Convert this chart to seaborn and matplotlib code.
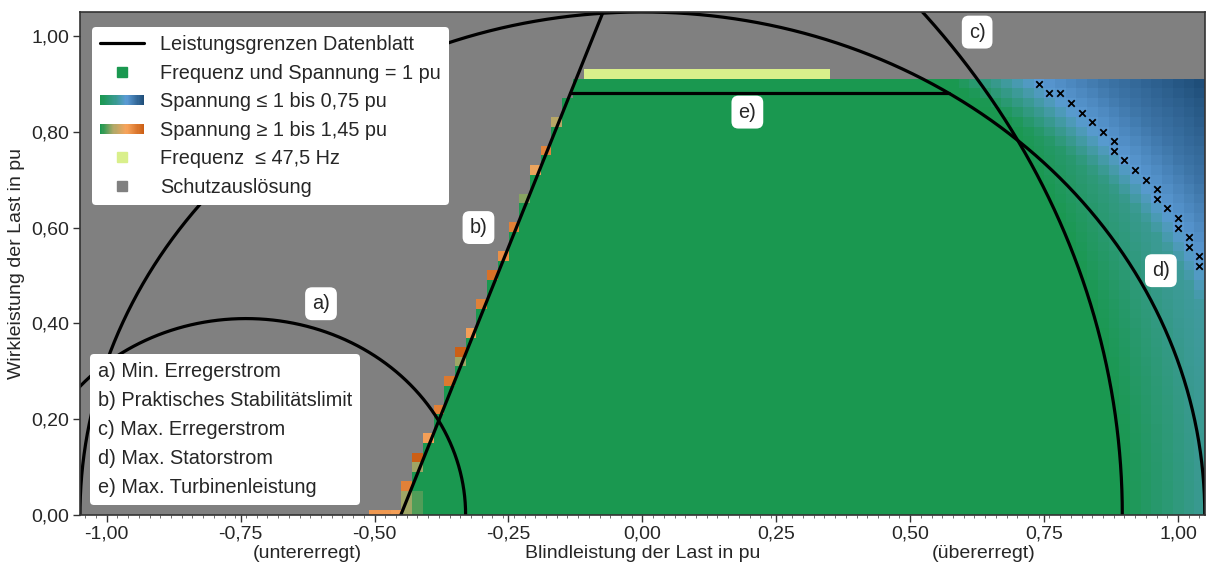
import numpy as np
import pandas as pd
import matplotlib
matplotlib.use("Agg")
import matplotlib.pyplot as plt
import seaborn as sns
from matplotlib.colors import LinearSegmentedColormap, to_rgba
from matplotlib.legend_handler import HandlerBase
from matplotlib.lines import Line2D
from matplotlib.patches import Patch, Rectangle
from matplotlib.ticker import FuncFormatter, MultipleLocator

#-------------------------------- data --------------------------------#
# simulated operating points: reactive power Q and active power P of the load (pu)
grid_step = 0.02
q_centers = np.round(np.arange(-1.04, 1.0401, grid_step), 2)
p_centers = np.round(np.arange(0.0, 0.9201, grid_step), 2)
p_max_sim = 0.90

# datasheet limits a) - e)
min_exc_center, min_exc_radius = -0.74, 0.41      # a) Min. Erregerstrom
stab_q0, stab_slope = -0.451, 2.78                # b) Praktisches Stabilitätslimit
max_exc_center, max_exc_radius = -0.768, 1.664    # c) Max. Erregerstrom
stator_radius = 1.05                              # d) Max. Statorstrom
turbine_p = 0.88                                  # e) Max. Turbinenleistung

# undervoltage shading (0 = 1 pu, 1 = 0.75 pu) over apparent power / excitation overshoot
s_knots = [1.07, 1.12, 1.165, 1.25, 1.38]
s_shade = [0.0, 0.35, 0.60, 0.80, 1.00]
exc_knots = [0.0, 0.15, 0.30]
exc_shade = [0.0, 0.35, 0.50]

# overvoltage cells along the stability limit (Q, P, U in pu)
over_q = [-0.50, -0.48, -0.46, -0.44, -0.44, -0.44, -0.44, -0.42, -0.42, -0.42,
          -0.42, -0.42, -0.40, -0.38, -0.36, -0.34, -0.34, -0.32, -0.30, -0.28,
          -0.26, -0.24, -0.22, -0.20, -0.18, -0.16]
over_p = [0.00, 0.00, 0.00, 0.00, 0.02, 0.04, 0.06, 0.00, 0.02, 0.04,
          0.10, 0.12, 0.16, 0.22, 0.28, 0.32, 0.34, 0.38, 0.44, 0.50,
          0.54, 0.60, 0.66, 0.72, 0.76, 0.82]
over_u = [1.30, 1.30, 1.28, 1.12, 1.12, 1.12, 1.36, 1.05, 1.05, 1.05,
          1.12, 1.45, 1.28, 1.36, 1.38, 1.12, 1.45, 1.28, 1.36, 1.40,
          1.32, 1.36, 1.10, 1.25, 1.35, 1.15]

# frequency <= 47.5 Hz cells (row P = 0.92)
freq_p = 0.92
freq_q = np.round(np.arange(-0.10, 0.3401, grid_step), 2)

# operating points marked with x
marker_q = [0.74, 0.76, 0.78, 0.80, 0.82, 0.84, 0.86, 0.88, 0.88, 0.90, 0.92,
            0.94, 0.96, 0.96, 0.98, 1.00, 1.00, 1.02, 1.02, 1.04, 1.04]
marker_p = [0.90, 0.88, 0.88, 0.86, 0.84, 0.82, 0.80, 0.78, 0.76, 0.74, 0.72,
            0.70, 0.68, 0.66, 0.64, 0.62, 0.60, 0.58, 0.56, 0.54, 0.52]

x_ticks = [-1.0, -0.75, -0.5, -0.25, 0.0, 0.25, 0.5, 0.75, 1.0]
y_ticks = [0.0, 0.2, 0.4, 0.6, 0.8, 1.0]

labels = ["a)", "b)", "c)", "d)", "e)"]
label_q = [-0.60, -0.306, 0.625, 0.968, 0.196]
label_p = [0.441, 0.600, 1.008, 0.510, 0.841]

limit_texts = ["a) Min. Erregerstrom", "b) Praktisches Stabilitätslimit",
               "c) Max. Erregerstrom", "d) Max. Statorstrom",
               "e) Max. Turbinenleistung"]

#-------------------------------- colours --------------------------------#
green = "#1a9850"
trip_gray = "#808080"
freq_green = "#d9ef8b"
cmap_under = LinearSegmentedColormap.from_list(
    "under", [(0.0, green), (0.35, "#3a9a92"), (0.6, "#5b9bd5"), (1.0, "#1f4e79")])
cmap_over = LinearSegmentedColormap.from_list(
    "over", [(0.0, green), (0.3, "#b0a868"), (0.6, "#f7a45c"), (1.0, "#cc5f15")])

FS = 14.3
FS_AX = 14
sns.set_theme(style="ticks")
plt.rcParams["font.family"] = ["Liberation Sans", "DejaVu Sans"]
plt.rcParams["font.size"] = FS

#-------------------------------- result grid --------------------------------#
qq, pp = np.meshgrid(q_centers, p_centers)
rgba = np.zeros(qq.shape + (4,))
rgba[:] = to_rgba(trip_gray)
stable = (pp <= p_max_sim + 1e-9) & (qq > stab_q0 + pp / stab_slope - 0.005)
shade = np.maximum(np.interp(np.hypot(qq, pp), s_knots, s_shade),
                   np.interp(np.hypot(qq - max_exc_center, pp) - max_exc_radius,
                             exc_knots, exc_shade))
rgba[stable] = cmap_under(shade[stable])

row_of = {p: i for i, p in enumerate(p_centers)}
col_of = {q: j for j, q in enumerate(q_centers)}
for q, p, u in zip(over_q, over_p, over_u):
    rgba[row_of[round(p, 2)], col_of[round(q, 2)]] = cmap_over((u - 1.0) / 0.45)
for q in freq_q:
    rgba[row_of[freq_p], col_of[round(q, 2)]] = to_rgba(freq_green)

fig = plt.figure(figsize=(12.06, 5.65), dpi=100)
ax = fig.add_axes([0.0663, 0.0885, 0.9327, 0.8903])
ax.set_facecolor(trip_gray)
ax.imshow(rgba, origin="lower", aspect="auto", interpolation="nearest",
          extent=(q_centers[0] - 0.01, q_centers[-1] + 0.01,
                  p_centers[0] - 0.01, p_centers[-1] + 0.01), zorder=1)

#-------------------------------- datasheet limits --------------------------------#
theta = np.linspace(0, np.pi, 600)
e_q0 = stab_q0 + turbine_p / stab_slope
e_q1 = np.sqrt(stator_radius ** 2 - turbine_p ** 2)
curves = pd.concat([
    pd.DataFrame({"Q": min_exc_center + min_exc_radius * np.cos(theta),
                  "P": min_exc_radius * np.sin(theta), "curve": "a"}),
    pd.DataFrame({"Q": [stab_q0, stab_q0 + 1.1 / stab_slope], "P": [0.0, 1.1], "curve": "b"}),
    pd.DataFrame({"Q": max_exc_center + max_exc_radius * np.cos(theta),
                  "P": max_exc_radius * np.sin(theta), "curve": "c"}),
    pd.DataFrame({"Q": stator_radius * np.cos(theta),
                  "P": stator_radius * np.sin(theta), "curve": "d"}),
    pd.DataFrame({"Q": [e_q0, e_q1], "P": [turbine_p, turbine_p], "curve": "e"}),
])
sns.lineplot(data=curves, x="Q", y="P", units="curve", estimator=None, sort=False,
             color="black", linewidth=2.3, ax=ax, zorder=3)

sns.scatterplot(x=marker_q, y=marker_p, marker="x", color="black", s=22,
                linewidth=1.3, ax=ax, zorder=4)

for lab, q, p in zip(labels, label_q, label_p):
    ax.text(q, p, lab, ha="center", va="center", fontsize=FS, zorder=5,
            bbox=dict(boxstyle="round,pad=0.35", fc="white", ec="none"))

#-------------------------------- axes --------------------------------#
ax.set_xlim(-1.05, 1.05)
ax.set_ylim(0, 1.05)
ax.set_xticks(x_ticks)
ax.set_yticks(y_ticks)
ax.xaxis.set_minor_locator(MultipleLocator(0.02))
fmt = FuncFormatter(lambda v, _: f"{v:.2f}".replace(".", ","))
ax.xaxis.set_major_formatter(fmt)
ax.yaxis.set_major_formatter(fmt)
ax.tick_params(which="major", length=5, width=1.0, labelsize=FS_AX, color="#333333", pad=2.5)
ax.tick_params(which="minor", length=2, width=0.6, color="#555555")
for sp in ax.spines.values():
    sp.set_color("#333333")
    sp.set_linewidth(1.2)
    sp.set_zorder(6)
ax.set_xlabel("Blindleistung der Last in pu", fontsize=FS_AX)
ax.xaxis.set_label_coords(0.5, -0.06)
ax.set_ylabel("Wirkleistung der Last in pu", fontsize=FS_AX, labelpad=5)
ax.text(0.202, -0.06, "(untererregt)", transform=ax.transAxes, ha="center", va="top", fontsize=FS_AX)
ax.text(0.803, -0.06, "(übererregt)", transform=ax.transAxes, ha="center", va="top", fontsize=FS_AX)

#-------------------------------- legends --------------------------------#
class GradientHandler(HandlerBase):
    def __init__(self, cmap, **kw):
        super().__init__(**kw)
        self.cmap = cmap

    def create_artists(self, legend, orig_handle, xdescent, ydescent, width, height, fontsize, trans):
        n = 40
        arts = []
        for i in range(n):
            arts.append(Rectangle((-xdescent + i * width / n, -ydescent + height * 0.15),
                                  width / n * 1.05, height * 0.7,
                                  fc=self.cmap(i / (n - 1)), ec="none", transform=trans))
        return arts


blue_patch = Patch()
orange_patch = Patch()
handles = [
    Line2D([], [], color="black", lw=2.3),
    Line2D([], [], ls="none", marker="s", ms=7, mfc=green, mec=green),
    blue_patch,
    orange_patch,
    Line2D([], [], ls="none", marker="s", ms=7, mfc=freq_green, mec=freq_green),
    Line2D([], [], ls="none", marker="s", ms=7, mfc=trip_gray, mec=trip_gray),
]
texts = ["Leistungsgrenzen Datenblatt", "Frequenz und Spannung = 1 pu",
         "Spannung \u2264 1 bis 0,75 pu", "Spannung \u2265 1 bis 1,45 pu",
         "Frequenz  \u2264 47,5 Hz", "Schutzauslösung"]
leg1 = ax.legend(handles, texts, loc="upper left", bbox_to_anchor=(0.011, 0.97),
                 borderaxespad=0, fontsize=FS, handlelength=2.2, handletextpad=0.8,
                 labelspacing=0.48, framealpha=1, facecolor="white", edgecolor="none",
                 fancybox=True, borderpad=0.4,
                 handler_map={blue_patch: GradientHandler(cmap_under),
                              orange_patch: GradientHandler(cmap_over)})
leg1.set_zorder(7)
ax.add_artist(leg1)

empty = [Line2D([], [], ls="none") for _ in limit_texts]
leg2 = ax.legend(empty, limit_texts, loc="lower left", bbox_to_anchor=(0.009, 0.02),
                 borderaxespad=0, fontsize=FS, handlelength=0, handletextpad=0,
                 labelspacing=0.5, framealpha=1, facecolor="white", edgecolor="none",
                 fancybox=True, borderpad=0.4)
leg2.set_zorder(7)

fig.savefig("out.png", dpi=100)
